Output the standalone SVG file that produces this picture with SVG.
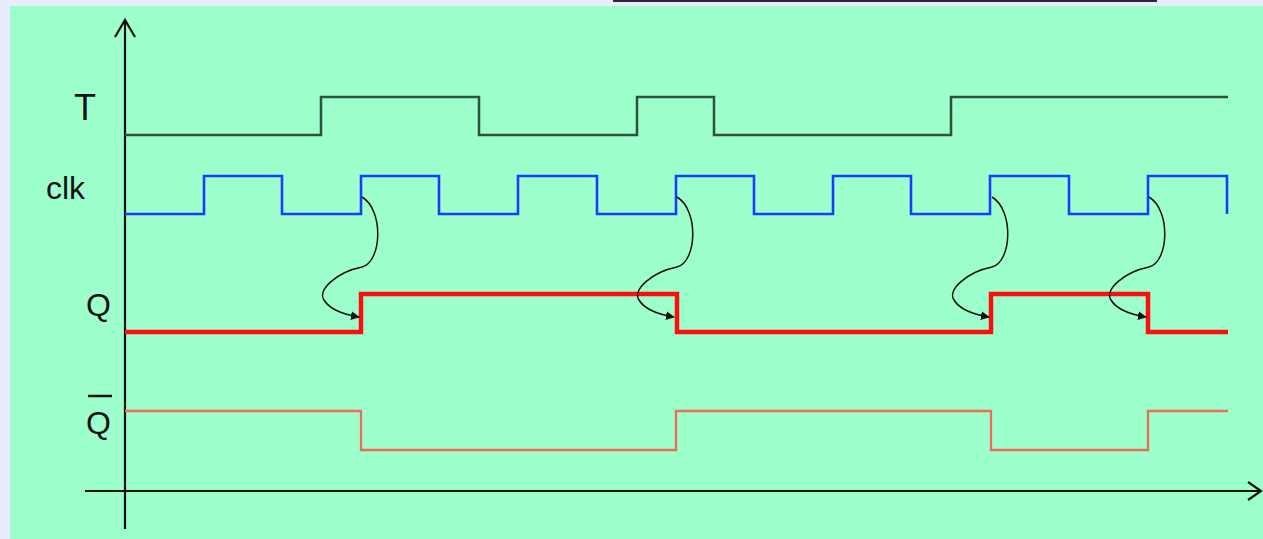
<svg xmlns="http://www.w3.org/2000/svg" width="1263" height="539" viewBox="0 0 1263 539">
  <defs>
    <marker id="ah" viewBox="0 0 10 10" refX="9" refY="5" markerWidth="9" markerHeight="9" markerUnits="userSpaceOnUse" orient="auto">
      <path d="M0,0 L10,5 L0,10 Z" fill="#111"/>
    </marker>
    <path id="curve" d="M0,197 C22,210 20,262 0,267 C-25,272 -45,290 -38,300 C-32,310 -15,315 -3,317"/>
  </defs>
  <style>
    .lbl { font-family: "Liberation Sans", Arial, sans-serif; fill: #111; }
    .axis { fill: none; stroke: #111; stroke-width: 2.2; }
    .sigT { fill: none; stroke: #2f4f3f; stroke-width: 2.5; }
    .sigClk { fill: none; stroke: #1a3cff; stroke-width: 2.6; }
    .sigQ { fill: none; stroke: #ff0d0d; stroke-width: 4.5; }
    .sigQb { fill: none; stroke: #f06a58; stroke-width: 2.3; }
    .dep { fill: none; stroke: #111; stroke-width: 1.5; marker-end: url(#ah); }
  </style>
  <rect x="0" y="0" width="1263" height="539" fill="#e9ecfb"/>
  <rect x="10" y="6" width="1253" height="533" fill="#9cffcc"/>
  <line x1="613" y1="1" x2="1157" y2="1" stroke="#2a2a35" stroke-width="2"/>

  <g id="axes">
    <line class="axis" x1="125" y1="21" x2="125" y2="529"/>
    <polyline class="axis" points="115,37 125,20 135,37"/>
    <line class="axis" x1="85" y1="491" x2="1261" y2="491" stroke="#2f4f3f"/>
    <polyline class="axis" points="1248,482 1261,491 1248,500"/>
  </g>

  <g id="label-T"><text class="lbl" x="74" y="120" font-size="36">T</text></g>
  <g id="label-clk"><text class="lbl" x="46" y="199" font-size="32">clk</text></g>
  <g id="label-Q"><text class="lbl" x="86" y="316" font-size="32">Q</text></g>
  <g id="label-Qbar">
    <text class="lbl" x="86" y="434" font-size="32">Q</text>
    <line x1="88" y1="396" x2="112" y2="396" stroke="#111" stroke-width="2.5"/>
  </g>

  <g id="signal-T">
    <polyline class="sigT" points="125,135 321,135 321,97 479,97 479,135 637,135 637,97 714,97 714,135 951,135 951,97 1228,97"/>
  </g>
  <g id="signal-clk">
    <polyline class="sigClk" points="125,214 204,214 204,176 282,176 282,214 361,214 361,176 439,176 439,214 518,214 518,176 597,176 597,214 676,214 676,176 754,176 754,214 833,214 833,176 911,176 911,214 990,214 990,176 1069,176 1069,214 1148,214 1148,176 1227,176 1227,214"/>
  </g>
  <g id="signal-Q">
    <polyline class="sigQ" points="125,332 361,332 361,294 677,294 677,332 991,332 991,294 1148,294 1148,332 1228,332"/>
  </g>
  <g id="signal-Qbar">
    <polyline class="sigQb" points="125,411 361,411 361,450 676,450 676,411 991,411 991,450 1148,450 1148,411 1228,411"/>
  </g>

  <g id="connectors">
    <use href="#curve" class="dep" transform="translate(362,0)"/>
    <use href="#curve" class="dep" transform="translate(677,0)"/>
    <use href="#curve" class="dep" transform="translate(992,0)"/>
    <use href="#curve" class="dep" transform="translate(1149,0)"/>
  </g>
</svg>
